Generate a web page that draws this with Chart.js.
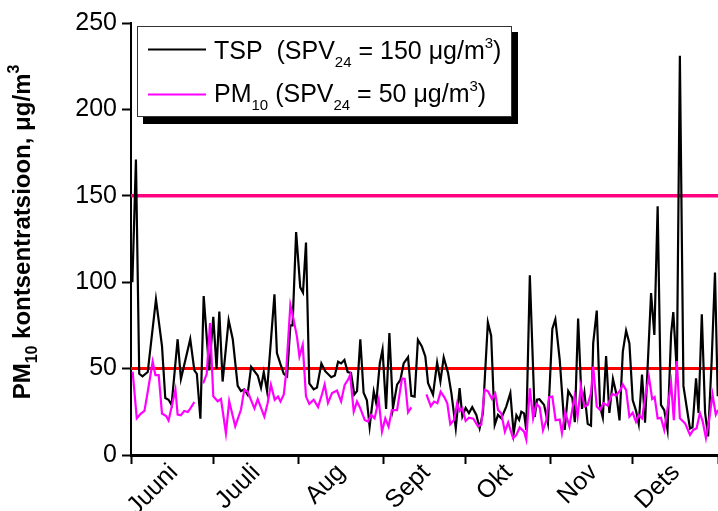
<!DOCTYPE html>
<html><head><meta charset="utf-8">
<script src="https://cdn.jsdelivr.net/npm/chart.js@4/dist/chart.umd.min.js"></script>
<style>html,body{margin:0;padding:0;background:#fff}canvas{display:block}</style>
</head><body>
<canvas id="c" width="718" height="511"></canvas>
<script>
// ---- data (day 0 = 1 June) ----
const monthLabels = ['Juuni','Juuli','Aug','Sept','Okt','Nov','Dets'];
const monthStartDays = [0,30,61,92,122,153,183,214];
const yTickValues = [0,50,100,150,200,250];
const limitTSP = 150;
const limitPM10 = 50;

// [day, µg/m3]
const tspSeries = [
 [0.5,100],[1.8,171],[3.0,47],[4.2,45.5],[6.1,48],[9.1,90],[11.3,63],[12.5,33],[13.7,32],[14.8,29],
 [17.0,67],[18.2,44],[21.6,67],[23.1,49],[24.0,47],[25.3,21],[26.5,92],[28.5,49],[30.0,80],[31.2,50],
 [32.2,83],[33.4,42.5],[35.6,78],[37.1,67],[38.9,40],[40.1,37],[41.3,38],[42.5,35],[43.8,51],[46.2,46],
 [47.4,39],[48.4,48],[49.6,37],[52.3,93],[53.2,59],[54.4,53],[55.7,47],[56.9,45.5],[58.1,75],[58.9,75],
 [60.2,129],[61.7,97],[62.7,94],[63.8,123],[65.0,41.5],[66.6,38],[67.8,39],[69.4,53],[70.8,48.5],[73.0,45],
 [74.3,46],[75.5,54],[76.6,53],[77.8,55],[79.0,48],[80.2,47.5],[81.4,35],[82.4,37],[83.6,67],[84.8,36],
 [86.0,31.6],[87.0,16.4],[88.5,36.7],[89.4,30],[90.7,53],[91.7,61],[93.0,26.6],[94.2,70.6],[95.5,27],[97.0,40.7],
 [98.2,43.4],[99.4,53],[101.0,56.6],[102.2,34.2],[103.4,33.8],[104.6,66.6],[106.0,63],[107.3,57],[108.3,41.6],[110.1,35],
 [111.6,53.5],[112.8,42.6],[114.0,56.5],[115.6,47.4],[116.8,35.8],[118.4,15.5],[119.8,38.7],[120.8,22.3],[122.0,27.3],[123.2,24.3],
 [124.4,27.7],[125.9,23.2],[127.1,15.5],[128.3,24.3],[130.1,76.7],[131.3,69],[132.6,17.4],[133.8,23.2],[135.0,21.2],[136.8,28],
 [138.3,35.8],[139.5,12.5],[140.5,23],[141.5,20.3],[142.3,25.1],[143.3,24.1],[144.1,14.5],[145.4,104],[147.2,22],[148.0,32],
 [148.9,32.3],[150.6,29],[152.0,18.4],[153.6,73],[154.7,78.5],[156.3,55],[158.1,14.5],[159.4,37],[160.9,33],[161.8,19],
 [163.0,79],[164.4,26.7],[165.3,36],[166.5,18],[167.7,17],[168.5,64.6],[169.8,83.6],[171.0,28],[172.0,21.6],[173.2,57.3],
 [174.4,24.3],[175.7,44],[176.9,35.8],[178.1,20],[179.3,59.8],[180.5,72],[181.7,64.6],[182.9,31.8],[184.1,25.7],[185.1,18],
 [186.3,46.5],[187.4,18.7],[189.6,93.7],[190.8,69.5],[192.0,144],[193.2,29],[194.4,26],[195.6,14.5],[196.9,70],[197.7,82.7],
 [199.0,48],[200.1,231],[201.4,40],[202.6,27.5],[203.8,15.3],[204.7,16],[206.0,44.4],[206.9,24.3],[208.1,81.5],[209.3,24.3],
 [210.4,10.8],[211.7,55],[212.9,105.6],[213.9,34]
];

// null = missing measurements
const pm10Series = [
 [0.6,48.3],[2.1,21.2],[3.6,24],[4.9,25.5],[6.1,36.6],[7.9,54],[8.9,46.2],[10.1,46.2],[11.3,24],[12.8,22.6],
 [13.7,20],[16.2,37.8],[17.0,23.4],[18.2,23],[19.4,25.5],[20.7,24.9],[21.6,26.8],[23.1,30.7],[24.5,null],[26.3,41.5],
 [27.6,46.8],[28.8,76.3],[30.0,34],[31.6,31.1],[32.8,32.4],[34.6,12.6],[35.8,31.1],[38.0,16.6],[40.1,26.3],[41.3,37.8],
 [42.5,36.7],[45.0,27],[46.2,32.3],[48.6,22.2],[49.8,30],[51.0,40.7],[52.4,31.9],[53.6,33.8],[54.5,31],[55.7,35],
 [56.5,46.5],[58.1,86.9],[59.3,78.2],[60.5,68.5],[61.4,57],[62.6,63.7],[63.8,33.8],[65.0,29.6],[66.6,32],[68.2,27.7],
 [69.6,35],[70.6,40.8],[71.8,30.1],[73.3,35.8],[75.1,37.3],[76.6,31],[77.9,40.6],[79.1,43.5],[79.9,46.4],[81.2,25.1],
 [82.4,31],[83.6,27],[85.2,20.3],[86.4,19.4],[87.6,23.2],[88.8,21.2],[90.3,31.9],[91.5,13.5],[92.7,21.2],[93.9,16.4],
 [95.1,26],[97.0,26],[98.8,44.4],[99.8,44],[101.0,24.7],[102.2,27.6],[105.0,null],[107.7,35.1],[109.3,28.3],[110.5,30.9],
 [111.7,30],[112.9,36.7],[114.3,33.2],[115.3,29.9],[116.4,17.8],[117.8,20.3],[118.9,29.9],[119.8,25.5],[120.8,27.1],[122.0,19.7],
 [123.2,21.6],[124.8,21],[126.5,16.6],[127.7,17.6],[128.9,37.7],[130.1,37],[131.6,32.4],[132.8,35.5],[133.8,26.1],[135.0,24.1],
 [136.3,13.5],[137.5,18.8],[139.3,9.7],[140.5,11.6],[141.7,16],[143.3,13.5],[144.1,9],[145.4,38.6],[146.6,21.2],[147.8,29.5],
 [149.0,27.6],[150.2,14.3],[151.4,20.1],[152.4,33.4],[153.6,33.8],[154.8,20.1],[156.3,20.5],[157.1,12.7],[158.3,25],[159.8,16.6],
 [161.7,33.8],[162.8,22.2],[164.0,39.6],[165.3,28],[166.5,29],[167.7,35.8],[168.5,51.2],[169.8,28],[171.0,26.1],[172.2,30],
 [173.8,28.5],[175.4,35.4],[176.8,34.5],[178.3,37.3],[179.3,40.8],[180.5,37.5],[181.7,22.2],[182.9,24.5],[184.1,19.3],[185.1,23],
 [186.3,21.2],[187.5,33.8],[188.8,45.4],[190.0,32.4],[190.9,33.5],[192.0,21.2],[193.2,21.5],[194.4,14.5],[195.6,27],[196.9,41.5],
 [197.9,20.1],[199.0,54.4],[200.1,21.2],[202.0,18.3],[203.8,11.6],[205.0,14.5],[206.2,15.5],[207.4,24.3],[208.4,19.5],[209.6,9.8],
 [210.8,20.5],[212.0,35],[213.2,23.4],[214.0,26]
];

const FONT = "'Liberation Sans', Arial, sans-serif";
const toXY = s => s.map(p => ({x: p[0], y: p[1]}));
const xMin = monthStartDays[0], xMax = monthStartDays[monthStartDays.length - 1];

function drawRuns(ctx, x, y, runs) {
  for (const r of runs) {
    ctx.font = r.f;
    ctx.fillText(r.t, x, y + (r.dy || 0));
    x += ctx.measureText(r.t).width;
  }
  return x;
}
function runsWidth(ctx, runs) {
  let w = 0;
  for (const r of runs) { ctx.font = r.f; w += ctx.measureText(r.t).width; }
  return w;
}

const overlay = {
  id: 'overlay',
  afterDraw(chart) {
    const ctx = chart.ctx;
    ctx.save();
    // legend shadow + box
    ctx.fillStyle = '#000';
    ctx.fillRect(143, 32, 375, 92);
    ctx.fillStyle = '#fff';
    ctx.fillRect(137, 26, 375, 91);
    ctx.strokeStyle = '#333';
    ctx.lineWidth = 1;
    ctx.strokeRect(137.5, 26.5, 374, 90);
    // legend lines
    ctx.lineWidth = 2;
    ctx.strokeStyle = '#000';
    ctx.beginPath(); ctx.moveTo(148, 49.5); ctx.lineTo(206, 49.5); ctx.stroke();
    ctx.strokeStyle = '#FF00FF';
    ctx.beginPath(); ctx.moveTo(148, 94.5); ctx.lineTo(206, 94.5); ctx.stroke();
    // legend text
    ctx.fillStyle = '#000';
    ctx.textBaseline = 'alphabetic';
    ctx.textAlign = 'left';
    const big = '25px ' + FONT, small = '15px ' + FONT;
    drawRuns(ctx, 214, 59, [
      {t:'TSP  (SPV', f:big}, {t:'24', f:small, dy:8}, {t:' = 150 \u03bcg/m', f:big},
      {t:'3', f:small, dy:-11}, {t:')', f:big}
    ]);
    drawRuns(ctx, 214, 102, [
      {t:'PM', f:big}, {t:'10', f:small, dy:8}, {t:' (SPV', f:big}, {t:'24', f:small, dy:8},
      {t:' = 50 \u03bcg/m', f:big}, {t:'3', f:small, dy:-11}, {t:')', f:big}
    ]);
    // y-axis title
    const tb = 'bold 24px ' + FONT, ts = 'bold 16px ' + FONT;
    const titleRuns = [
      {t:'PM', f:tb}, {t:'10', f:ts, dy:7}, {t:' kontsentratsioon, \u03bcg/m', f:tb}, {t:'3', f:ts, dy:-11}
    ];
    ctx.translate(30, 232);
    ctx.rotate(-Math.PI / 2);
    const w = runsWidth(ctx, titleRuns);
    drawRuns(ctx, -w / 2, 0, titleRuns);
    ctx.restore();
  }
};

new Chart(document.getElementById('c'), {
  type: 'line',
  data: {
    datasets: [
      { label: 'PM10', data: toXY(pm10Series), borderColor: '#FF00FF', borderWidth: 2.2,
        pointRadius: 0, spanGaps: false, tension: 0, order: 0 },
      { label: 'TSP', data: toXY(tspSeries), borderColor: '#000000', borderWidth: 2.2,
        pointRadius: 0, spanGaps: false, tension: 0, order: 1 },
      { label: 'TSP limit', data: [{x:xMin, y:limitTSP},{x:xMax, y:limitTSP}], borderColor: '#FF0080',
        borderWidth: 3.5, pointRadius: 0, order: 2 },
      { label: 'PM10 limit', data: [{x:xMin, y:limitPM10},{x:xMax, y:limitPM10}], borderColor: '#FF0000',
        borderWidth: 3, pointRadius: 0, order: 3 }
    ]
  },
  options: {
    responsive: false,
    animation: false,
    devicePixelRatio: 1,
    layout: { padding: { left: 0, right: 0, top: 23, bottom: 0 } },
    plugins: { legend: { display: false }, tooltip: { enabled: false } },
    scales: {
      x: {
        type: 'linear', min: xMin, max: xMax,
        afterBuildTicks: s => { s.ticks = monthStartDays.map(v => ({value: v})); },
        afterFit: s => { s.height = 56; s.paddingRight = 0; s.paddingLeft = 0; },
        ticks: {
          autoSkip: false, maxRotation: 45, minRotation: 45, labelOffset: 43, padding: -6,
          color: '#000', font: { family: FONT, size: 25 },
          callback: (v, i) => monthLabels[i] || ''
        },
        grid: { display: true, drawOnChartArea: false, drawTicks: true, tickLength: 9, tickWidth: 2, tickColor: '#000' },
        border: { display: true, color: '#000', width: 3 }
      },
      y: {
        type: 'linear', min: 0, max: 250,
        afterBuildTicks: s => { s.ticks = yTickValues.map(v => ({value: v})); },
        afterFit: s => { s.width = 131; },
        ticks: { color: '#000', font: { family: FONT, size: 25 }, padding: 5 },
        grid: { display: true, drawOnChartArea: false, drawTicks: true, tickLength: 9, tickWidth: 2, tickColor: '#000' },
        border: { display: true, color: '#000', width: 2 }
      }
    }
  },
  plugins: [overlay]
});
</script>
</body></html>
